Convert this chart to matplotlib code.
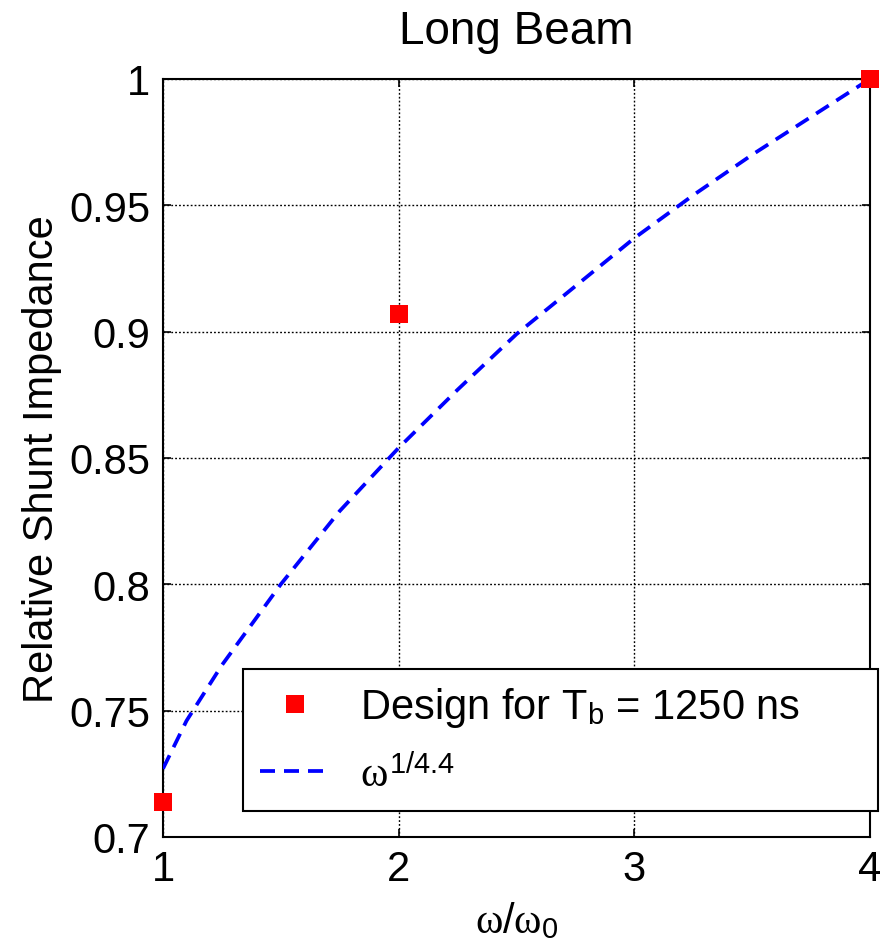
import matplotlib
matplotlib.use("Agg")
import matplotlib.pyplot as plt

# design points
design_x = [1, 2, 4]
design_y = [0.714, 0.907, 1.0]

# dashed curve
curve_x = [1.0, 1.1, 1.25, 1.5, 1.75, 2.0, 2.25, 2.5, 2.75, 3.0, 3.25, 3.5, 3.75, 4.0]
curve_y = [0.727, 0.746, 0.768, 0.800, 0.829, 0.854, 0.877, 0.899, 0.918, 0.937, 0.954, 0.970, 0.985, 1.0]

xticks = [1, 2, 3, 4]
yticks = [0.7, 0.75, 0.8, 0.85, 0.9, 0.95, 1.0]
ytick_labels = ["0.7", "0.75", "0.8", "0.85", "0.9", "0.95", "1"]

plt.rcParams["font.family"] = ["Liberation Sans", "DejaVu Sans"]
plt.rcParams["mathtext.fontset"] = "custom"
plt.rcParams["mathtext.rm"] = "Liberation Sans"
plt.rcParams["mathtext.it"] = "Liberation Serif"
plt.rcParams["mathtext.bf"] = "Liberation Sans:bold"

fig = plt.figure(figsize=(8.92, 9.53), dpi=100)
ax = fig.add_axes([0.1827, 0.1207, 0.7926, 0.7954])

ax.plot(design_x, design_y, "s", color="red", markersize=13.5, markeredgewidth=0,
        label=r"Design for T$_{\mathrm{b}}$ = 1250 ns", zorder=4, clip_on=False)
ax.plot(curve_x, curve_y, color="blue", lw=2.7, linestyle=(0, (4.0, 2.4)),
        label=r"$\omega^{1/4.4}$", zorder=3)

ax.set_xlim(1, 4)
ax.set_ylim(0.7, 1.0)
ax.set_xticks(xticks)
ax.set_yticks(yticks)
ax.set_yticklabels(ytick_labels)
ax.grid(True, color="black", linestyle=(0, (1.3, 1.5)), lw=1.0)

for s in ax.spines.values():
    s.set_linewidth(1.5)
ax.tick_params(direction="in", length=6, width=1.2, top=True, right=True,
               labelsize=30, pad=9)

ax.set_title("Long Beam", fontsize=33, pad=26)
ax.set_ylabel("Relative Shunt Impedance", fontsize=30, labelpad=5)
ax.set_xlabel(r"$\omega/\omega_0$", fontsize=30, labelpad=8)

leg = ax.legend(loc="lower left", bbox_to_anchor=(0.113, 0.0343, 0.898, 0.19),
                mode="expand", fontsize=30, frameon=True, fancybox=False,
                borderaxespad=0, handlelength=1.7, handletextpad=0.7,
                labelspacing=0.6, borderpad=0.4)
leg.get_frame().set_edgecolor("black")
leg.get_frame().set_linewidth(1.5)
leg.get_frame().set_alpha(1)

fig.savefig("out.png", dpi=100)
